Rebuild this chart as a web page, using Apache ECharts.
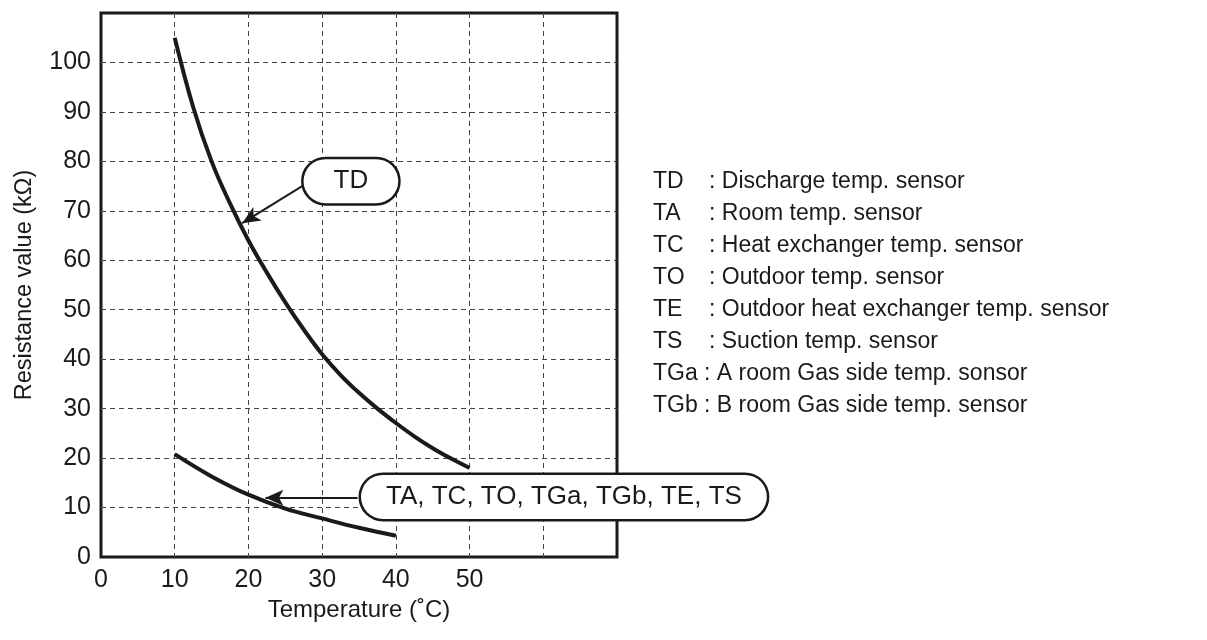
<!DOCTYPE html>
<html>
<head>
<meta charset="utf-8">
<script src="https://cdn.jsdelivr.net/npm/echarts@6/dist/echarts.min.js"></script>
<style>
  html, body { margin: 0; padding: 0; background: #fff; }
  #chart { width: 1207px; height: 640px; }
</style>
</head>
<body>
<div id="chart"></div>
<script>
// ---- data ----
const tdTemps   = [10, 12.5, 15, 17.5, 20, 22.5, 25, 27.5, 30, 32.5, 35, 37.5, 40, 42.5, 45, 47.5, 50];
const tdValues  = [105, 91, 80, 71.5, 64, 57.5, 51.5, 46, 41, 36.8, 33.2, 30, 27.1, 24.4, 22, 19.9, 18];
const lowTemps  = [10, 15, 20, 25, 30, 35, 40];
const lowValues = [20.8, 16.3, 12.6, 9.8, 7.8, 5.9, 4.3];

const xTickLabels = [0, 10, 20, 30, 40, 50];
const yTickLabels = [0, 10, 20, 30, 40, 50, 60, 70, 80, 90, 100];

const tdCallout  = 'TD';
const lowCallout = 'TA, TC, TO, TGa, TGb, TE, TS';
// callout anchor points (data coords): [pill centre], arrow [from, to]
const tdPill  = [33.9, 76.0];
const tdArrow = [[27.3, 75.0], [19.15, 67.5]];
const lowPill  = [62.8, 12.15];
const lowArrow = [[34.8, 12.0], [22.3, 12.0]];

const legendCodes = ['TD', 'TA', 'TC', 'TO', 'TE', 'TS', 'TGa', 'TGb'];
const legendDescs = [
  'Discharge temp. sensor',
  'Room temp. sensor',
  'Heat exchanger temp. sensor',
  'Outdoor temp. sensor',
  'Outdoor heat exchanger temp. sensor',
  'Suction temp. sensor',
  'A room Gas side temp. sonsor',
  'B room Gas side temp. sensor'
];

const FONT = "'Liberation Sans', Arial, Helvetica, sans-serif";
const INK = '#1a1a1a';

const chart = echarts.init(document.getElementById('chart'), null, { renderer: 'canvas' });

function pairs(xs, ys) { return xs.map((x, i) => [x, ys[i]]); }

function pillLabel(text, padH) {
  return {
    show: true,
    position: 'inside',
    formatter: text,
    fontFamily: FONT,
    fontSize: 26,
    lineHeight: 27,
    color: INK,
    backgroundColor: '#fff',
    borderColor: INK,
    borderWidth: 2.5,
    borderRadius: 23,
    padding: [9, padH, 8, padH]
  };
}

function arrowLine(a) {
  return {
    silent: true,
    symbol: ['none', 'arrow'],
    symbolSize: [12, 18],
    lineStyle: { color: INK, width: 2, type: 'solid' },
    label: { show: false },
    emphasis: { disabled: true },
    animation: false,
    data: [[{ coord: a[0] }, { coord: a[1] }]]
  };
}

const legendGraphics = [];
legendCodes.forEach((code, i) => {
  const y = 181 + i * 32;
  legendGraphics.push({
    type: 'text', left: 653, top: y - 11,
    style: { text: code, font: `23px ${FONT}`, fill: INK }
  });
  legendGraphics.push({
    type: 'text', left: code.length > 2 ? 704 : 709, top: y - 11,
    style: { text: ': ' + legendDescs[i], font: `23px ${FONT}`, fill: INK }
  });
});

const gridLine = { show: true, showMinLine: false, showMaxLine: false,
                   lineStyle: { color: '#444', width: 1, type: [5, 4] } };

const option = {
  animation: false,
  backgroundColor: '#fff',
  grid: {
    left: 101, right: 590, top: 13, bottom: 83,
    show: true, borderColor: INK, borderWidth: 3, backgroundColor: 'transparent'
  },
  xAxis: {
    type: 'value', min: 0, max: 70, interval: 10,
    name: 'Temperature (˚C)', nameLocation: 'middle', nameGap: 40,
    nameTextStyle: { fontFamily: FONT, fontSize: 24, color: INK },
    axisLine: { show: false }, axisTick: { show: false },
    axisLabel: {
      margin: 11, fontFamily: FONT, fontSize: 25, color: INK,
      formatter: v => (xTickLabels.indexOf(v) >= 0 ? String(v) : '')
    },
    splitLine: gridLine
  },
  yAxis: {
    type: 'value', min: 0, max: 110, interval: 10,
    name: 'Resistance value (kΩ)', nameLocation: 'middle', nameGap: 64,
    nameTextStyle: { fontFamily: FONT, fontSize: 23.5, color: INK },
    axisLine: { show: false }, axisTick: { show: false },
    axisLabel: {
      margin: 10, fontFamily: FONT, fontSize: 25, color: INK,
      formatter: v => (yTickLabels.indexOf(v) >= 0 ? String(v) : '')
    },
    splitLine: gridLine
  },
  series: [
    {
      name: 'TD', type: 'line', smooth: 0.4, showSymbol: false, silent: true,
      lineStyle: { color: INK, width: 4 },
      data: pairs(tdTemps, tdValues),
      markLine: arrowLine(tdArrow),
      markPoint: {
        silent: true, symbol: 'circle', symbolSize: 1,
        itemStyle: { color: 'rgba(0,0,0,0)' },
        label: pillLabel(tdCallout, 30),
        data: [{ coord: tdPill }]
      },
      z: 3
    },
    {
      name: 'Others', type: 'line', smooth: 0.4, showSymbol: false, silent: true,
      lineStyle: { color: INK, width: 4 },
      data: pairs(lowTemps, lowValues),
      markLine: arrowLine(lowArrow),
      markPoint: {
        silent: true, symbol: 'circle', symbolSize: 1,
        itemStyle: { color: 'rgba(0,0,0,0)' },
        label: pillLabel(lowCallout, 25),
        data: [{ coord: lowPill }]
      },
      z: 3
    }
  ],
  graphic: legendGraphics
};

chart.setOption(option);
</script>
</body>
</html>
